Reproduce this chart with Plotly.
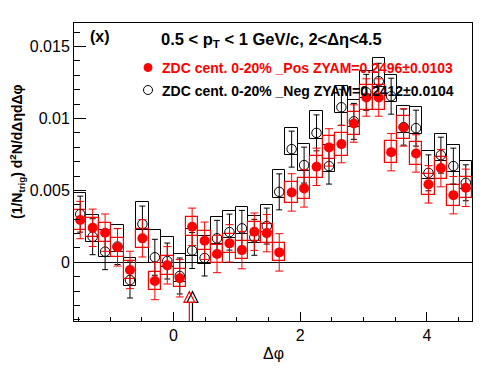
import plotly.graph_objects as go

# ---- data ----
dphi = [-1.4726, -1.2763, -1.0799, -0.8836, -0.6872, -0.4909, -0.2945, -0.0982,
        0.0982, 0.2945, 0.4909, 0.6872, 0.8836, 1.0799, 1.2763, 1.4726,
        1.6690, 1.8653, 2.0617, 2.2580, 2.4544, 2.6507, 2.8471, 3.0434,
        3.2398, 3.4361, 3.6325, 3.8288, 4.0252, 4.2215, 4.4179, 4.6143]
bin_width = 0.19635

pos_y = [0.00294, 0.00240, 0.00206, 0.00104, -0.00053, 0.00167, -0.00130, -0.00021,
         -0.00111, 0.00247, 0.00150, 0.00058, 0.00132, 0.00085, 0.00213, 0.00203,
         0.00069, 0.00486, 0.00514, 0.00664, 0.00799, 0.00822, 0.00965, 0.01146,
         0.01146, 0.00766, 0.00938, 0.00757, 0.00542, 0.00655, 0.00467, 0.00518]
pos_stat = [0.0013] * 32
pos_sys = [0.00068, 0.00066, 0.00066, 0.00064, 0.00064, 0.00065, 0.00064, 0.00064,
           0.00064, 0.00066, 0.00065, 0.00064, 0.00065, 0.00064, 0.00066, 0.00066,
           0.00063, 0.00072, 0.00073, 0.00076, 0.00079, 0.00080, 0.00083, 0.00086,
           0.00086, 0.00078, 0.00082, 0.00078, 0.00073, 0.00076, 0.00072, 0.00073]

neg_y = [0.00335, 0.00178, 0.00074, 0.00110, -0.00123, 0.00266, 0.00035, 0.00009,
         -0.00095, 0.00082, 0.00030, 0.00167, 0.00210, 0.00236, 0.00174, 0.00252,
         0.00490, 0.00787, 0.00676, 0.00900, 0.00669, 0.01078, 0.00980, 0.01182,
         0.01259, 0.01155, 0.00940, 0.00933, 0.00622, 0.00745, 0.00669, 0.00553]
neg_stat = [0.00125] * 32
neg_sys_up = [0.0015, 0.0015, 0.0015, 0.0015, 0.0015, 0.0015, 0.0019, 0.0017,
              0.0015, 0.0015, 0.0015, 0.0015, 0.0015, 0.0015, 0.0015, 0.0015,
              0.0015, 0.0015, 0.0015, 0.0015, 0.0015, 0.0015, 0.0015, 0.0015,
              0.0016, 0.0015, 0.0015, 0.0015, 0.0015, 0.0015, 0.0015, 0.0015]
neg_sys_dn = [0.0004] * 32

arrow_x = [0.30, 0.25]
arrow_colors = ["black", "red"]
arrow_tip, arrow_base = -0.00204, -0.00278

x_range = [-1.5708, 4.7124]
y_range = [-0.00408, 0.01664]

label_pos = "ZDC cent. 0-20% _Pos ZYAM=0.2496±0.0103"
label_neg = "ZDC cent. 0-20% _Neg ZYAM=0.2412±0.0104"
title_txt = "0.5 &lt; p<sub>T</sub> &lt; 1 GeV/c, 2&lt;Δη&lt;4.5"
panel_txt = "(x)"
ytitle = "(1/N<sub>trig</sub>) d<sup>2</sup>N/dΔηdΔφ"
xtitle = "Δφ"

RED = "#ff0000"
FONT = "Liberation Sans, Arial, sans-serif"

# page body has an 8px margin: figure is shrunk and margins shifted to compensate
OFF = 8
FIG_W, FIG_H = 496 - OFF, 374 - OFF
L, T, W, H = 74 - OFF, 23 - OFF, 398, 298

fig = go.Figure()

# systematic boxes (black then red)
fig.add_trace(go.Bar(
    x=dphi, y=[u + d for u, d in zip(neg_sys_up, neg_sys_dn)],
    base=[v - d for v, d in zip(neg_y, neg_sys_dn)], width=bin_width,
    marker=dict(color="rgba(0,0,0,0)", line=dict(color="black", width=1)),
    showlegend=False, hoverinfo="skip"))
fig.add_trace(go.Bar(
    x=dphi, y=[2 * s for s in pos_sys],
    base=[v - s for v, s in zip(pos_y, pos_sys)], width=bin_width,
    marker=dict(color="rgba(0,0,0,0)", line=dict(color=RED, width=1.2)),
    showlegend=False, hoverinfo="skip"))

# points
fig.add_trace(go.Scatter(
    x=dphi, y=neg_y, mode="markers",
    marker=dict(symbol="circle-open", size=9.5, color="black", line=dict(width=1)),
    error_y=dict(type="data", array=neg_stat, color="black", thickness=1, width=3),
    showlegend=False))
fig.add_trace(go.Scatter(
    x=dphi, y=pos_y, mode="markers",
    marker=dict(symbol="circle", size=10, color=RED),
    error_y=dict(type="data", array=pos_stat, color=RED, thickness=1, width=4),
    showlegend=False))

# arrows
shapes = []
for ax_, col in zip(arrow_x, arrow_colors):
    shapes.append(dict(type="line", xref="x", yref="y", x0=ax_, x1=ax_,
                       y0=y_range[0], y1=arrow_base, line=dict(color=col, width=1.2)))
    shapes.append(dict(type="path", xref="x", yref="y",
                       path=f"M {ax_-0.085},{arrow_base} L {ax_},{arrow_tip} L {ax_+0.085},{arrow_base} Z",
                       line=dict(color=col, width=1.2), fillcolor="rgba(255,255,255,0)"))

# helpers converting page pixel positions to paper coords
def px(xp): return (xp - OFF - L) / W
def py(yp): return (T + H - (yp - OFF)) / H

# legend markers (pixel-sized circles anchored in paper coords)
shapes.append(dict(type="circle", xref="paper", yref="paper", xsizemode="pixel", ysizemode="pixel",
                   xanchor=px(148), yanchor=py(67.5), x0=-4, x1=4, y0=-4, y1=4,
                   fillcolor=RED, line=dict(color=RED, width=1)))
shapes.append(dict(type="circle", xref="paper", yref="paper", xsizemode="pixel", ysizemode="pixel",
                   xanchor=px(148), yanchor=py(90), x0=-4.5, x1=4.5, y0=-4.5, y1=4.5,
                   fillcolor="rgba(0,0,0,0)", line=dict(color="black", width=1)))

annotations = [
    dict(text=f"<b>{panel_txt}</b>", x=px(88), y=py(36.5), xref="paper", yref="paper",
         xanchor="left", yanchor="middle", showarrow=False, font=dict(size=16, color="black", family=FONT)),
    dict(text=f"<b>{title_txt}</b>", x=px(159), y=py(40), xref="paper", yref="paper",
         xanchor="left", yanchor="middle", showarrow=False, font=dict(size=16.5, color="black", family=FONT)),
    dict(text=f"<b>{label_pos}</b>", x=px(160), y=py(67.5), xref="paper", yref="paper",
         xanchor="left", yanchor="middle", showarrow=False, font=dict(size=14, color=RED, family=FONT)),
    dict(text=f"<b>{label_neg}</b>", x=px(160), y=py(91), xref="paper", yref="paper",
         xanchor="left", yanchor="middle", showarrow=False, font=dict(size=14, color="black", family=FONT)),
    dict(text=f"<b>{ytitle}</b>", x=px(17), y=py(151), xref="paper", yref="paper",
         xanchor="center", yanchor="middle", textangle=-90, showarrow=False,
         font=dict(size=14, color="black", family=FONT)),
    dict(text=xtitle, x=px(273), y=py(353), xref="paper", yref="paper",
         xanchor="center", yanchor="middle", showarrow=False,
         font=dict(size=16, color="black", family=FONT)),
]

fig.update_layout(
    width=FIG_W, height=FIG_H,
    margin=dict(l=L, r=FIG_W - L - W, t=T, b=FIG_H - T - H, pad=0),
    paper_bgcolor="white", plot_bgcolor="white",
    barmode="overlay", bargap=0,
    shapes=shapes, annotations=annotations,
    font=dict(family=FONT, size=16, color="black"),
)
fig.update_xaxes(range=x_range, showgrid=False, zeroline=False,
                 showline=True, linecolor="black", linewidth=1, mirror=True,
                 ticks="inside", ticklen=9, tickcolor="black", tickwidth=1,
                 tick0=0, dtick=2, tickfont=dict(size=16),
                 minor=dict(ticks="inside", ticklen=4.5, tickcolor="black", dtick=0.5, tick0=0))
fig.update_yaxes(range=y_range, showgrid=False, zeroline=True, zerolinecolor="black", zerolinewidth=1,
                 showline=True, linecolor="black", linewidth=1, mirror=True,
                 ticks="inside", ticklen=12, tickcolor="black", tickwidth=1,
                 tick0=0, dtick=0.005, tickformat="~g", tickfont=dict(size=16),
                 minor=dict(ticks="inside", ticklen=6, tickcolor="black", dtick=0.001, tick0=0))

fig.write_html("out.html")
